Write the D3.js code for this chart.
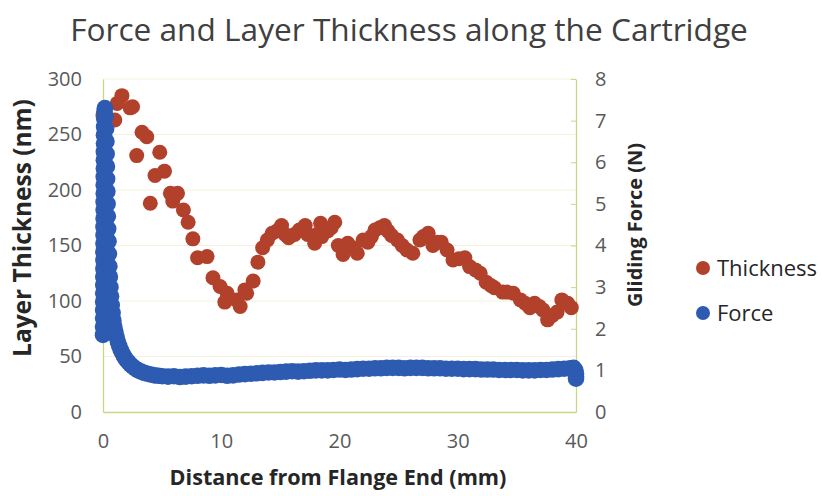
<!DOCTYPE html>
<html>
<head>
<meta charset="utf-8">
<script src="https://cdn.jsdelivr.net/npm/d3@7/dist/d3.min.js"></script>
<style>
  html, body { margin: 0; padding: 0; background: #ffffff; }
  svg { display: block; }
  text { font-family: "Open Sans", "Liberation Sans", sans-serif; }
</style>
</head>
<body>
<script>
// Layer thickness measured along the cartridge: [distance (mm), thickness (nm)]
const thickness = [
  [0.0,267],[1.0,263],[1.2,278],[1.6,285],[2.3,274],[2.5,275],[2.85,231],[3.3,252],
  [3.7,248],[4.0,188],[4.4,213],[4.8,234],[5.2,217],[5.7,197],[5.9,190],[6.3,197],
  [6.8,182],[7.2,171],[7.6,156],[8.0,139],[8.8,140],[9.3,121],[9.9,113],[10.3,99],
  [10.5,107],[11.3,101],[11.6,95],[12.0,110],[12.15,107],[12.7,118],[13.1,135],[13.5,148],
  [13.9,155],[14.3,161],[14.7,163],[15.1,168],[15.4,160],[15.7,157],[16.2,160],[16.6,164],
  [17.1,168],[17.3,160],[17.9,152],[18.1,160],[18.4,170],[18.5,158],[19.0,163],[19.3,166],
  [19.6,171],[19.9,150],[20.3,142],[20.7,152],[21.1,148],[21.5,143],[22.0,155],[22.4,153],
  [22.7,158],[23.0,164],[23.4,166],[23.8,168],[24.1,163],[24.4,159],[24.9,155],[25.3,150],
  [25.7,146],[26.2,143],[26.8,155],[27.1,158],[27.5,161],[27.9,150],[28.3,153],[28.6,153],
  [29.1,146],[29.6,137],[30.1,138],[30.6,139],[31.0,131],[31.5,128],[31.9,125],[32.4,117],
  [32.8,114],[33.1,112],[33.8,108],[34.2,108],[34.7,107],[35.3,101],[35.7,98],[36.1,94],
  [36.5,98],[36.9,95],[37.2,92],[37.6,83],[38.0,87],[38.4,90],[38.8,101],[39.3,98],[39.6,94]
];

// Gliding force recorded along the cartridge: [distance (mm), force (N)]
const force = [
  // break-loose rise at the flange end
  [0.00,1.85],[0.00,2.05],[0.01,2.25],[0.01,2.45],[0.01,2.65],[0.02,2.85],[0.02,3.05],[0.02,3.25],
  [0.03,3.45],[0.03,3.65],[0.03,3.85],[0.04,4.05],[0.04,4.25],[0.04,4.45],[0.05,4.65],[0.05,4.85],
  [0.05,5.05],[0.06,5.25],[0.06,5.45],[0.06,5.65],[0.07,5.85],[0.07,6.05],[0.07,6.25],[0.08,6.45],
  [0.08,6.65],[0.09,6.85],[0.10,7.05],[0.12,7.22],[0.16,7.30],
  // decay after the peak
  [0.22,7.10],[0.26,6.80],[0.29,6.50],[0.31,6.20],[0.33,5.90],[0.35,5.60],[0.37,5.30],[0.39,5.00],
  [0.41,4.70],[0.44,4.40],[0.47,4.10],[0.50,3.80],[0.54,3.50],[0.58,3.25],[0.63,3.00],[0.68,2.78],
  [0.74,2.57],[0.81,2.38],[0.88,2.20],[0.96,2.05],[1.05,1.92],[1.15,1.80],[1.26,1.68],[1.38,1.58],
  [1.50,1.49],[1.64,1.41],[1.80,1.33],[1.96,1.26],[2.14,1.20],[2.33,1.14],[2.53,1.09],[2.75,1.04],
  [2.98,1.00],[3.22,0.97],[3.48,0.94],[3.75,0.92],[4.05,0.90],[4.35,0.88],[4.70,0.87],[5.00,0.86],
  // steady gliding
  [5.5,0.85],[6.0,0.86],[6.5,0.84],[7.0,0.85],[7.5,0.86],[8.0,0.87],[8.5,0.88],[9.0,0.87],
  [9.5,0.88],[10.0,0.89],[10.5,0.87],[11.0,0.88],[11.5,0.90],[12.0,0.91],[12.5,0.92],[13.0,0.93],
  [13.5,0.94],[14.0,0.95],[14.5,0.95],[15.0,0.96],[15.5,0.97],[16.0,0.98],[16.5,0.97],[17.0,0.98],
  [17.5,0.99],[18.0,1.00],[18.5,1.00],[19.0,1.00],[19.5,1.01],[20.0,1.02],[20.5,1.01],[21.0,1.02],
  [21.5,1.03],[22.0,1.04],[22.5,1.04],[23.0,1.05],[23.5,1.05],[24.0,1.06],[24.5,1.06],[25.0,1.06],
  [25.5,1.05],[26.0,1.06],[26.5,1.06],[27.0,1.06],[27.5,1.05],[28.0,1.05],[28.5,1.05],[29.0,1.04],
  [29.5,1.04],[30.0,1.04],[30.5,1.03],[31.0,1.03],[31.5,1.03],[32.0,1.02],[32.5,1.02],[33.0,1.02],
  [33.5,1.01],[34.0,1.01],[34.5,1.01],[35.0,1.01],[35.5,1.00],[36.0,1.00],[36.5,1.00],[37.0,1.01],
  [37.5,1.01],[38.0,1.02],[38.5,1.03],[39.0,1.04],[39.5,1.05],[39.8,1.06],[39.95,1.00],[40.0,0.92],
  [40.0,0.85],[40.0,0.80]
];

const xTicks = [0, 10, 20, 30, 40];
const leftTicks = [0, 50, 100, 150, 200, 250, 300];
const rightTicks = [0, 1, 2, 3, 4, 5, 6, 7, 8];

const titleText = "Force and Layer Thickness along the Cartridge";
const xTitle = "Distance from Flange End (mm)";
const leftTitle = "Layer Thickness (nm)";
const rightTitle = "Gliding Force (N)";
const seriesNames = ["Thickness", "Force"];

const W = 822, H = 496;
const plot = { left: 103, right: 576, top: 79, bottom: 412 };
const red = "#b2412b", blue = "#2d5bb1";
const axisColor = "#cdd588", gridColor = "#f4f2dc";

const svg = d3.select("body").append("svg").attr("width", W).attr("height", H);

const x = d3.scaleLinear().domain([0, 40]).range([plot.left, plot.right]);
const yL = d3.scaleLinear().domain([0, 300]).range([plot.bottom, plot.top]);
const yR = d3.scaleLinear().domain([0, 8]).range([plot.bottom, plot.top]);

// scale a text's font so it spans the given width
function fit(sel, width) {
  const node = sel.node();
  const fs = parseFloat(sel.attr("font-size"));
  const w = node.getComputedTextLength();
  sel.attr("font-size", fs * width / w);
}

// faint horizontal gridlines
svg.append("g").selectAll("line").data(leftTicks.filter(d => d > 0)).join("line")
  .attr("x1", plot.left).attr("x2", plot.right)
  .attr("y1", d => yL(d)).attr("y2", d => yL(d))
  .attr("stroke", gridColor).attr("stroke-width", 1);

// left axis
const gL = svg.append("g").attr("transform", `translate(${plot.left},0)`)
  .call(d3.axisLeft(yL).tickValues(leftTicks).tickSize(0).tickPadding(21));
// right axis with inward ticks
const gR = svg.append("g").attr("transform", `translate(${plot.right},0)`)
  .call(d3.axisRight(yR).tickValues(rightTicks).tickSize(0).tickPadding(19));
gR.selectAll(".tick").append("line").attr("x1", 0).attr("x2", -5)
  .attr("stroke", axisColor).attr("stroke-width", 1);
// bottom axis
const gB = svg.append("g").attr("transform", `translate(0,${plot.bottom})`)
  .call(d3.axisBottom(x).tickValues(xTicks).tickSize(0).tickPadding(22));

[gL, gR, gB].forEach(g => {
  g.select(".domain").attr("stroke", axisColor).attr("stroke-width", 1.3);
  g.selectAll(".tick text").attr("font-size", 20).attr("fill", "#595959")
    .attr("font-family", "'Open Sans', sans-serif");
});

// data points
svg.append("g").selectAll("circle").data(thickness).join("circle")
  .attr("cx", d => x(d[0])).attr("cy", d => yL(d[1])).attr("r", 7.5)
  .attr("fill", red);
svg.append("g").selectAll("circle").data(force).join("circle")
  .attr("cx", d => x(d[0])).attr("cy", d => yR(d[1])).attr("r", 8.3)
  .attr("fill", blue);

// titles
const t = svg.append("text").attr("x", 409).attr("y", 41).attr("text-anchor", "middle")
  .attr("font-size", 28).attr("fill", "#404040").text(titleText);
fit(t, 678);

const xt = svg.append("text").attr("x", 338).attr("y", 485).attr("text-anchor", "middle")
  .attr("font-size", 20).attr("font-weight", "bold").attr("fill", "#262626").text(xTitle);
fit(xt, 337);

const lt = svg.append("text").attr("transform", "translate(31,228) rotate(-90)")
  .attr("text-anchor", "middle").attr("font-size", 20).attr("font-weight", "bold")
  .attr("fill", "#262626").text(leftTitle);
fit(lt, 258);

const rt = svg.append("text").attr("transform", "translate(642,225) rotate(-90)")
  .attr("text-anchor", "middle").attr("font-size", 20).attr("font-weight", "bold")
  .attr("fill", "#262626").text(rightTitle);
fit(rt, 164);

// legend
const legend = svg.append("g");
const legendRows = [{ name: seriesNames[0], color: red, y: 268 }, { name: seriesNames[1], color: blue, y: 313 }];
legendRows.forEach(row => {
  legend.append("circle").attr("cx", 703).attr("cy", row.y).attr("r", 7).attr("fill", row.color);
  legend.append("text").attr("x", 717).attr("y", row.y).attr("dy", "0.36em")
    .attr("font-size", 22).attr("fill", "#262626").text(row.name);
});
</script>
</body>
</html>
